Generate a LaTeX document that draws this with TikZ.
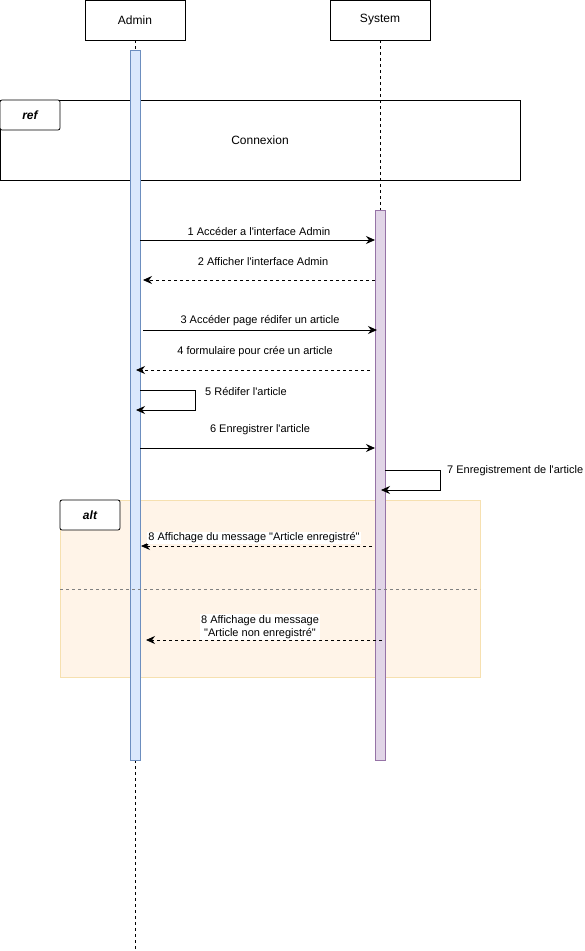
\documentclass[tikz,border=0pt]{standalone}
\usepackage{fontspec}
\setmainfont{Liberation Sans}
\newfontfamily\lsans{Liberation Sans}
\usetikzlibrary{arrows.meta}
\definecolor{admfill}{HTML}{DAE8FC}
\definecolor{admline}{HTML}{6C8EBF}
\definecolor{sysfill}{HTML}{E1D5E7}
\definecolor{sysline}{HTML}{9673A6}
\definecolor{altfill}{HTML}{FFF4E8}
\definecolor{altline}{HTML}{F6E0B0}
\definecolor{sepline}{HTML}{808080}
\tikzset{
  actor/.style={draw=black, line width=0.8pt, minimum width=100pt, minimum height=40pt, inner sep=0pt, font=\lsans\fontsize{12}{14}\selectfont},
  lifeline/.style={draw=black, line width=0.8pt, dash pattern=on 3pt off 3pt},
  msg/.style={draw=black, line width=0.8pt, -{Stealth[length=9pt,width=8pt,inset=3pt]}},
  rmsg/.style={msg, dash pattern=on 3pt off 3pt},
  lbl/.style={font=\lsans\fontsize{11}{13}\selectfont, inner sep=1pt},
  wlbl/.style={lbl, fill=white, align=center},
  tag/.style={draw=black, line width=0.8pt, fill=white, rounded corners=2pt, minimum width=60pt, minimum height=30pt, inner sep=0pt, font=\lsans\fontsize{12}{14}\selectfont\bfseries\itshape},
}
\begin{document}
\begin{tikzpicture}[x=1pt,y=-1pt]
\lsans
\useasboundingbox (0,0) rectangle (584,951);
% actors
\node[actor] (admin) at (135,20) {Admin};
\node[actor] (system) at (380,20) {System};
\coordinate (aend) at (135,949);
\coordinate (send) at (380,760);
\draw[lifeline] (admin.south) -- (aend);
\draw[lifeline] (system.south) -- (send);
% ref frame
\node[draw=black, line width=0.8pt, minimum width=520pt, minimum height=80pt, inner sep=0pt] (ref) at (260,140) {};
\node[font=\lsans\fontsize{12}{14}\selectfont] (conn) at (260,140) {Connexion};
\node[tag] (reftag) at (30,115) {ref};
% alt frame
\node[draw=altline, fill=altfill, line width=0.8pt, minimum width=420pt, minimum height=177pt, inner sep=0pt] (alt) at (270,588.5) {};
% activation bars
\node[draw=admline, fill=admfill, line width=0.8pt, minimum width=10pt, minimum height=710pt, inner sep=0pt] (abar) at (135,405) {};
\node[draw=sysline, fill=sysfill, line width=0.8pt, minimum width=10pt, minimum height=550pt, inner sep=0pt] (sbar) at (380,485) {};
% alt separator and tag
\coordinate (sepL) at (60,589);
\coordinate (sepR) at (480,589);
\draw[sepline, line width=0.8pt, dash pattern=on 3pt off 3pt] (sepL) -- (sepR);
\node[tag] (alttag) at (90,515) {alt};
% message coordinates
\coordinate (m1s) at (140,240); \coordinate (m1e) at (375,240);
\coordinate (m2s) at (375,280); \coordinate (m2e) at (143,280);
\coordinate (m3s) at (143,330); \coordinate (m3e) at (377,330);
\coordinate (m4s) at (370,370); \coordinate (m4e) at (136,370);
\coordinate (m5s) at (140,390); \coordinate (m5a) at (195,390); \coordinate (m5b) at (195,410); \coordinate (m5e) at (136,410);
\coordinate (m6s) at (140,448); \coordinate (m6e) at (375,448);
\coordinate (m7s) at (385,470); \coordinate (m7a) at (440,470); \coordinate (m7b) at (440,490); \coordinate (m7e) at (381,490);
\coordinate (m8s) at (372,546); \coordinate (m8e) at (141,546);
\coordinate (m9s) at (382,640); \coordinate (m9e) at (146,640);
% messages
\draw[msg] (m1s) -- (m1e);
\node[lbl] (l1) at (259,231) {1 Accéder a l'interface Admin};
\draw[rmsg] (m2s) -- (m2e);
\node[lbl] (l2) at (263,262) {2 Afficher l'interface Admin};
\draw[msg] (m3s) -- (m3e);
\node[lbl] (l3) at (260,321) {3 Accéder page rédifer un article};
\draw[rmsg] (m4s) -- (m4e);
\node[lbl] (l4) at (255,352) {4 formulaire pour crée un article};
\draw[msg] (m5s) -- (m5a) -- (m5b) -- (m5e);
\node[lbl, anchor=west] (l5) at (204,391) {5 Rédifer l'article};
\draw[msg] (m6s) -- (m6e);
\node[lbl] (l6) at (260,430) {6 Enregistrer l'article};
\draw[msg] (m7s) -- (m7a) -- (m7b) -- (m7e);
\node[lbl, anchor=west] (l7) at (446,471) {7 Enregistrement de l'article};
\draw[rmsg] (m8s) -- (m8e);
\node[wlbl] (l8) at (254,538) {8 Affichage du message "Article enregistré"};
\draw[rmsg] (m9s) -- (m9e);
\node[wlbl] (l9) at (260,627) {8 Affichage du message\\"Article non enregistré"};
\end{tikzpicture}
\end{document}
